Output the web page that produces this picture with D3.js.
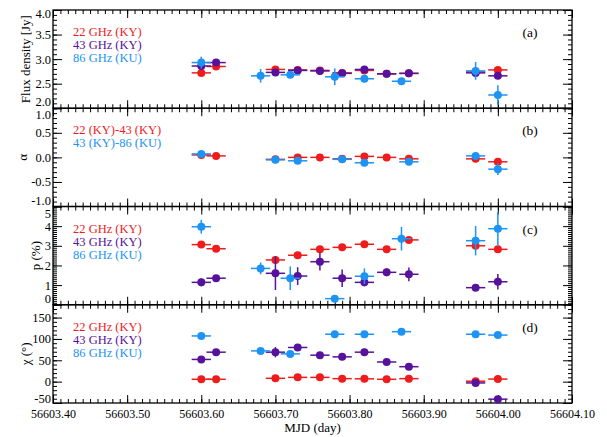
<!DOCTYPE html>
<html><head><meta charset="utf-8">
<script src="https://cdn.jsdelivr.net/npm/d3@7"></script>
<style>
body{margin:0;background:#fff}
</style>
</head><body>
<svg id="c" width="607" height="437"></svg>
<script>
// ---------- data ----------
const xTickValues = [56603.40,56603.50,56603.60,56603.70,56603.80,56603.90,56604.00,56604.10];
const xTickLabels = ["56603.40","56603.50","56603.60","56603.70","56603.80","56603.90","56604.00","56604.10"];

const t22 = [56603.60,56603.62,56603.70,56603.73,56603.76,56603.79,56603.82,56603.85,56603.88,56603.97,56604.00];
const t43 = [56603.60,56603.62,56603.70,56603.73,56603.76,56603.79,56603.82,56603.85,56603.88,56603.97,56604.00];
const t86 = [56603.60,56603.68,56603.72,56603.78,56603.82,56603.87,56603.97,56604.00];
const tA2243 = [56603.60,56603.62,56603.70,56603.73,56603.76,56603.79,56603.82,56603.85,56603.88,56603.97,56604.00];
const tA4386 = [56603.60,56603.70,56603.73,56603.79,56603.82,56603.88,56603.97,56604.00];
const xErr = 0.013;

// (a) flux density [Jy]
const flux22 = [2.72,2.85,2.79,2.78,2.77,2.72,2.77,2.70,2.71,2.74,2.78];
const flux43 = [2.86,2.93,2.73,2.77,2.76,2.71,2.79,2.70,2.71,2.72,2.66];
const flux86 = [2.93,2.66,2.68,2.64,2.60,2.55,2.76,2.27];
const fluxErr22 = [0.03,0.03,0.03,0.03,0.03,0.03,0.03,0.03,0.03,0.03,0.03];
const fluxErr43 = [0.03,0.03,0.03,0.03,0.03,0.03,0.03,0.03,0.03,0.03,0.03];
const fluxErr86 = [0.12,0.14,0.06,0.17,0.05,0.06,0.18,0.20];

// (b) spectral index
const alpha2243 = [0.05,0.03,-0.04,0.00,0.00,-0.03,0.02,0.00,-0.03,-0.03,-0.09];
const alpha4386 = [0.07,-0.05,-0.07,-0.04,-0.11,-0.09,0.03,-0.24];
const alphaErr2243 = [0.02,0.02,0.02,0.02,0.02,0.02,0.02,0.02,0.02,0.02,0.02];
const alphaErr4386 = [0.03,0.03,0.03,0.05,0.03,0.03,0.06,0.12];

// (c) polarization degree p (%)
const p22 = [3.06,2.85,2.28,2.52,2.82,2.92,3.08,2.82,3.30,3.00,2.82];
const p43 = [1.14,1.35,1.60,1.46,2.19,1.35,1.14,1.65,1.55,0.87,1.17];
const p86 = [3.97,1.85,1.35,0.31,1.45,3.36,3.26,3.87];
const pErr22 = [0.1,0.1,0.2,0.1,0.1,0.1,0.1,0.1,0.1,0.2,0.1];
const pErr43 = [0.2,0.15,0.85,0.45,0.45,0.45,0.2,0.2,0.35,0.15,0.4];
const pErr86 = [0.35,0.3,0.6,0.1,0.4,0.6,0.75,0.85];

// (d) EVPA chi (deg)
const chi22 = [5.5,5.5,7.8,10,10,7,6.6,5.5,7,1,6];
const chi43 = [52,69,69,80,62,58,69,46,35,-3,-41];
const chi86 = [107,72,65,111,111,117,111,109];
const chiErr22 = [3,3,3,3,3,3,3,3,3,3,3];
const chiErr43 = [4,4,12,6,4,4,8,4,6,6,4];
const chiErr86 = [4,4,6,8,6,4,4,4];

const legendFreq = ["22 GHz (KY)","43 GHz (KY)","86 GHz (KU)"];
const legendAlpha = ["22 (KY)-43 (KY)","43 (KY)-86 (KU)"];
const panelTags = ["(a)","(b)","(c)","(d)"];
const yTitles = ["Flux density [Jy]","α","p (%)","χ (°)"];

const yDomains = [[2,4],[-1,1],[0,5],[-50,180]];
const yTickValues = [[2.0,2.5,3.0,3.5,4.0],[-1.0,-0.5,0.0,0.5,1.0],[0,1,2,3,4,5],[-50,0,50,100,150]];
const yTickLabels = [["2.0","2.5","3.0","3.5","4.0"],["-1.0","-0.5","0.0","0.5","1.0"],["0","1","2","3","4","5"],["-50","0","50","100","150"]];
const yMinorStep = [0.1,0.1,0.1,10];

// ---------- styling ----------
const FONT = '"Liberation Serif","Tinos","Times New Roman","Times","Nimbus Roman","DejaVu Serif","Noto Serif",serif';
const RED = "#ee1c1c", PURPLE = "#56129a", BLUE = "#1d93f3";
const L = 53, R = 572, TOP = 10, BOT = 403;
const ph = (BOT - TOP) / 4;
const titleX = [25, 22, 35, 25];

const svg = d3.select("#c");
const x = d3.scaleLinear().domain([56603.40, 56604.10]).range([L, R]);
const xMinor = d3.range(0, 71).map(i => 56603.40 + i * 0.01);

const panels = [
  {series:[{t:t22,v:flux22,e:fluxErr22,c:RED},{t:t43,v:flux43,e:fluxErr43,c:PURPLE},{t:t86,v:flux86,e:fluxErr86,c:BLUE}], legend:legendFreq, lc:[RED,PURPLE,BLUE]},
  {series:[{t:tA2243,v:alpha2243,e:alphaErr2243,c:RED},{t:tA4386,v:alpha4386,e:alphaErr4386,c:BLUE}], legend:legendAlpha, lc:[RED,BLUE]},
  {series:[{t:t22,v:p22,e:pErr22,c:RED},{t:t43,v:p43,e:pErr43,c:PURPLE},{t:t86,v:p86,e:pErr86,c:BLUE}], legend:legendFreq, lc:[RED,PURPLE,BLUE]},
  {series:[{t:t22,v:chi22,e:chiErr22,c:RED},{t:t43,v:chi43,e:chiErr43,c:PURPLE},{t:t86,v:chi86,e:chiErr86,c:BLUE}], legend:legendFreq, lc:[RED,PURPLE,BLUE]}
];

panels.forEach((p, i) => {
  const y0 = TOP + i * ph, y1 = y0 + ph;
  const y = d3.scaleLinear().domain(yDomains[i]).range([y1, y0]);
  const g = svg.append("g");
  const [d0, d1] = yDomains[i];
  const minor = d3.range(Math.round((d1 - d0) / yMinorStep[i]) + 1).map(k => d0 + k * yMinorStep[i]);

  const addAxis = (axis, tr) => {
    const a = g.append("g").attr("transform", tr).call(axis);
    a.select(".domain").remove();
    a.selectAll("line").attr("stroke", "#000").attr("stroke-width", 1);
    return a;
  };
  addAxis(d3.axisBottom(x).tickValues(xMinor).tickSize(-4).tickFormat(""), `translate(0,${y1})`);
  addAxis(d3.axisTop(x).tickValues(xMinor).tickSize(-4).tickFormat(""), `translate(0,${y0})`);
  const xb = addAxis(d3.axisBottom(x).tickValues(xTickValues).tickSize(-8)
      .tickFormat((d, k) => i === 3 ? xTickLabels[k] : "").tickPadding(6), `translate(0,${y1})`);
  xb.attr("font-family", FONT);
  xb.selectAll("text").attr("font-size", 12).attr("fill", "#000");
  addAxis(d3.axisTop(x).tickValues(xTickValues).tickSize(-8).tickFormat(""), `translate(0,${y0})`);

  addAxis(d3.axisLeft(y).tickValues(minor).tickSize(-4).tickFormat(""), `translate(${L},0)`);
  addAxis(d3.axisRight(y).tickValues(minor).tickSize(-4).tickFormat(""), `translate(${R},0)`);
  addAxis(d3.axisRight(y).tickValues(yTickValues[i]).tickSize(-9).tickFormat(""), `translate(${R},0)`);
  const yl = addAxis(d3.axisLeft(y).tickValues(yTickValues[i]).tickSize(-9)
      .tickFormat((d, k) => yTickLabels[i][k]).tickPadding(2), `translate(${L},0)`);
  yl.attr("font-family", FONT);
  // edge labels pushed inward, as in the reference
  yl.selectAll("text").attr("font-size", 12.5).attr("fill", "#000")
    .attr("dy", d => d === d1 ? (i === 0 ? 7 : 10.5) : d === d0 ? (i === 3 ? -1 : -2.5) : 4);

  g.append("rect").attr("x", L).attr("y", y0).attr("width", R - L).attr("height", ph)
    .attr("fill", "none").attr("stroke", "#000").attr("stroke-width", 1.3);

  p.series.forEach(s => {
    const pts = s.t.map((t, k) => ({t, v: s.v[k], e: s.e[k]}));
    const sg = g.append("g");
    sg.selectAll(".h").data(pts).join("line")
      .attr("x1", d => x(d.t - xErr)).attr("x2", d => x(d.t + xErr))
      .attr("y1", d => y(d.v)).attr("y2", d => y(d.v))
      .attr("stroke", s.c).attr("stroke-width", 1.5);
    sg.selectAll(".v").data(pts).join("line")
      .attr("x1", d => x(d.t)).attr("x2", d => x(d.t))
      .attr("y1", d => y(d.v - d.e)).attr("y2", d => y(d.v + d.e))
      .attr("stroke", s.c).attr("stroke-width", 1.5);
    sg.selectAll("circle").data(pts).join("circle")
      .attr("cx", d => x(d.t)).attr("cy", d => y(d.v)).attr("r", 4)
      .attr("fill", s.c);
  });

  p.legend.forEach((txt, k) => {
    g.append("text").attr("x", 73).attr("y", y0 + 26 + k * 13.2).attr("font-size", 12.5)
      .attr("font-family", FONT).attr("fill", p.lc[k]).text(txt);
  });
  g.append("text").attr("x", 530).attr("y", y0 + 27).attr("text-anchor", "middle")
    .attr("font-size", 13.5).attr("font-family", FONT).attr("fill", "#000").text(panelTags[i]);
  g.append("text").attr("transform", `translate(${titleX[i]},${(y0 + y1) / 2}) rotate(-90)`)
    .attr("text-anchor", "middle").attr("dy", "0.35em").attr("font-size", 13)
    .attr("font-family", FONT).attr("fill", "#000").text(yTitles[i]);
});

svg.append("text").attr("x", (L + R) / 2).attr("y", 432).attr("text-anchor", "middle")
  .attr("font-size", 13).attr("font-family", FONT).attr("fill", "#000").text("MJD (day)");
</script>
</body></html>
